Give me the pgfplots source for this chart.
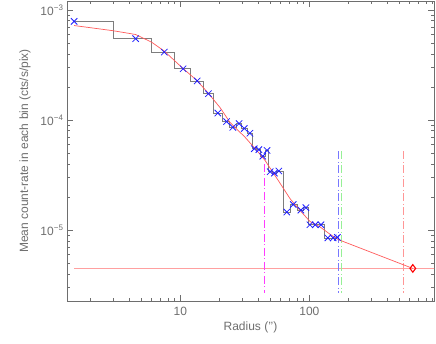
\documentclass[border=0pt]{standalone}
\usepackage{pgfplots}
\pgfplotsset{compat=1.18}
\usepackage{fontspec}
\setmainfont{Liberation Sans}

\definecolor{axgray}{RGB}{110,110,110}
\definecolor{histgray}{RGB}{125,125,125}
\definecolor{modred}{RGB}{255,90,90}
\definecolor{bkgpink}{RGB}{255,160,160}
\definecolor{ptblue}{RGB}{30,30,255}
\definecolor{vmag}{RGB}{255,60,255}
\definecolor{vblue}{RGB}{120,120,255}
\definecolor{vgreen}{RGB}{150,240,150}
\definecolor{vsalmon}{RGB}{255,150,150}

% measured points (radius in arcsec, mean count-rate)
\pgfplotstableread{
r    v
1.5  7.9e-4
4.5  5.5e-4
7.5  4.15e-4
10.5 2.93e-4
13.5 2.27e-4
16.5 1.74e-4
19.5 1.16e-4
22.8 9.7e-5
25.5 8.6e-5
28.5 9.3e-5
31.3 8.4e-5
34.6 7.6e-5
37.4 5.5e-5
40.6 5.4e-5
43.5 4.7e-5
47.0 5.3e-5
49.7 3.4e-5
53.5 3.3e-5
58.0 3.45e-5
66.8 1.46e-5
75.0 1.71e-5
86.0 1.52e-5
94.0 1.60e-5
101  1.12e-5
111  1.12e-5
123  1.12e-5
139  8.5e-6
153  8.5e-6
165  8.6e-6
}\points

% histogram steps: left bin edge, value
\pgfplotstableread{
e     v
1.5   7.9e-4
3.0   5.5e-4
6.0   4.15e-4
9.0   2.93e-4
12.0  2.27e-4
15.0  1.74e-4
18.0  1.16e-4
21.1  9.7e-5
24.1  8.6e-5
27.0  9.3e-5
29.9  8.4e-5
32.95 7.6e-5
36.0  5.5e-5
39.0  5.4e-5
42.05 4.7e-5
45.25 5.3e-5
48.35 3.4e-5
51.6  3.3e-5
55.75 3.45e-5
62.4  1.46e-5
70.9  1.71e-5
80.5  1.52e-5
90    1.60e-5
97.5  1.12e-5
106   1.12e-5
117   1.12e-5
131   8.5e-6
146   8.5e-6
159   8.6e-6
165   8.6e-6
}\steps

% model curve
\pgfplotstableread{
r    v
1.5  7.24e-4
3.0  6.50e-4
4.5  6.0e-4
6.0  5.1e-4
7.5  4.24e-4
10.5 2.94e-4
13.4 2.30e-4
16.5 1.75e-4
20.3 1.30e-4
24.3 9.5e-5
31.8 6.97e-5
40.3 5.09e-5
45.4 4.29e-5
57.5 2.82e-5
70.9 1.93e-5
84.7 1.51e-5
101  1.20e-5
121  1.07e-5
145  9.16e-6
168  8.20e-6
634  4.49e-6
}\model

\begin{document}
\begin{tikzpicture}
\useasboundingbox (-67pt,-43pt) rectangle (369pt,301pt);
\begin{axis}[
    xmode=log, ymode=log,
    scale only axis,
    width=367pt, height=300pt,
    xmin=1.32, xmax=926,
    ymin=2.27e-6, ymax=1.21e-3,
    axis line style={axgray, line width=0.6pt},
    tick style={axgray, line width=0.6pt},
    major tick length=6.5pt, minor tick length=3.5pt,
    tick align=inside,
    xtick={10,100}, xticklabels={10,100},
    minor xtick={2,3,4,5,6,7,8,9,20,30,40,50,60,70,80,90,200,300,400,500,600,700,800,900},
    ytick={1e-5,1e-4,1e-3},
    yticklabels={10\textsuperscript{−5},10\textsuperscript{−4},10\textsuperscript{−3}},
    minor ytick={3e-6,4e-6,5e-6,6e-6,7e-6,8e-6,9e-6,2e-5,3e-5,4e-5,5e-5,6e-5,7e-5,8e-5,9e-5,2e-4,3e-4,4e-4,5e-4,6e-4,7e-4,8e-4,9e-4},
    tick label style={font=\fontsize{12}{14}\selectfont, text=axgray},
    xticklabel style={yshift=-3pt},
    xlabel={Radius (\symbol{"27}\symbol{"27})},
    ylabel={Mean count-rate in each bin (cts/s/pix)},
    label style={font=\fontsize{12}{14}\selectfont, text=axgray},
    xlabel style={at={(axis description cs:0.5,-0.089)}, anchor=center},
    ylabel style={at={(axis description cs:-0.1144,0.5)}, anchor=center},
]
\addplot[bkgpink, line width=1.1pt] coordinates {(1.5,4.49e-6) (1000,4.49e-6)};
\addplot[vmag, line width=0.8pt, dash pattern=on 8pt off 2.5pt on 1pt off 2.5pt] coordinates {(44.8,4.0e-5) (44.8,2.7e-6)};
\addplot[vblue, line width=0.8pt, dash pattern=on 8pt off 2.5pt on 1pt off 2.5pt] coordinates {(169,5.2e-5) (169,2.7e-6)};
\addplot[vgreen, line width=0.8pt, dash pattern=on 8pt off 2.5pt on 1pt off 2.5pt] coordinates {(177.5,5.2e-5) (177.5,2.7e-6)};
\addplot[vsalmon, line width=0.8pt, dash pattern=on 8pt off 2.5pt on 1pt off 2.5pt] coordinates {(539,5.2e-5) (539,2.7e-6)};
\addplot[histgray, line width=0.8pt, const plot mark left] table[x=e, y=v] {\steps};
\addplot[modred, line width=0.7pt] table[x=r, y=v] {\model};
\addplot[only marks, mark=x, mark size=4.5pt, ptblue, mark options={line width=0.8pt}] table[x=r, y=v] {\points};
\addplot[only marks, mark=diamond, mark size=3.8pt, red, mark options={line width=1.1pt}] coordinates {(634,4.49e-6)};
\end{axis}
\end{tikzpicture}
\end{document}
